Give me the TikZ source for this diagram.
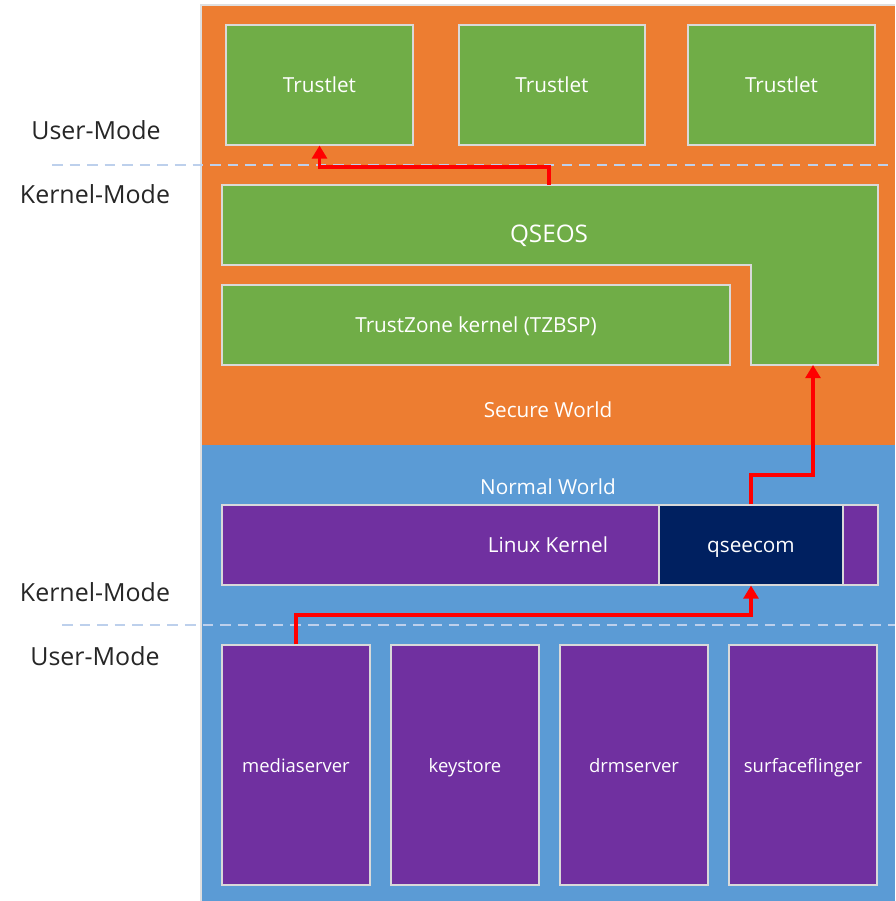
\documentclass[tikz,border=0pt]{standalone}
\usepackage{fontspec}
\setmainfont{Open Sans}
\usetikzlibrary{arrows.meta,fit}
\definecolor{secorange}{HTML}{ED7D31}
\definecolor{nwblue}{HTML}{5B9BD5}
\definecolor{tzgreen}{HTML}{70AD47}
\definecolor{nwpurple}{HTML}{7030A0}
\definecolor{qnavy}{HTML}{002060}
\definecolor{modeline}{HTML}{BDD0EC}
\begin{document}
\begin{tikzpicture}[
    x=0.02cm, y=-0.02cm,
    box/.style={draw=gray!30, line width=0.6pt, inner sep=0pt},
    boxtext/.style={text=white, font=\fontsize{11.8}{14}\selectfont,
                    text height=1.85ex, text depth=0.35ex},
    greenbox/.style={box, fill=tzgreen},
    purplebox/.style={box, fill=nwpurple},
    smalltext/.style={boxtext, font=\fontsize{10.5}{12}\selectfont},
    modelabel/.style={text=black!85, font=\fontsize{14.2}{16}\selectfont},
    modesplit/.style={draw=modeline, line width=0.8pt, dash pattern=on 6pt off 4pt},
    call/.style={draw=red, line width=2.2pt, -{Triangle[width=8.5pt,length=7.5pt]}}]
  \useasboundingbox[fill=white] (0,0) rectangle (895,901);
  % the two worlds
  \fill[secorange] (201,5) rectangle (895,445);
  \fill[nwblue] (201,445) rectangle (895,901);
  \draw[gray!25, line width=0.6pt] (895,5) -- (201,5) -- (201,901);
  \node[boxtext] (sw) at (548,410) {Secure World};
  \node[boxtext] (nw) at (548,487) {Normal World};
  % secure side
  \node[greenbox, fit={(226,25) (413,145)}, label={[boxtext]center:Trustlet}] (t1) {};
  \node[greenbox, fit={(459,25) (645,145)}, label={[boxtext]center:Trustlet}] (t2) {};
  \node[greenbox, fit={(688,25) (875,145)}, label={[boxtext]center:Trustlet}] (t3) {};
  \draw[greenbox] (222,185) -- (878,185) -- (878,365) -- (751,365)
    -- (751,265) -- (222,265) -- cycle;
  \node[text=white, font=\fontsize{13.8}{16}\selectfont] (qseos) at (549,236) {QSEOS};
  \coordinate (qseostop) at (549,185);
  \coordinate (qseoslow) at (813,365);
  \node[greenbox, fit={(222,285) (730,365)},
        label={[boxtext]center:TrustZone kernel (TZBSP)}] (tz) {};
  % normal side
  \node[purplebox, fit={(222,505) (878,585)}] (lk) {};
  \node[boxtext] (lktext) at (548,545) {Linux Kernel};
  \node[box, fill=qnavy, fit={(659,505) (843,585)}, label={[boxtext]center:qseecom}] (qsc) {};
  \node[purplebox, fit={(222,645) (370,885)}, label={[smalltext]center:mediaserver}] (ms) {};
  \node[purplebox, fit={(391,645) (539,885)}, label={[smalltext]center:keystore}] (ks) {};
  \node[purplebox, fit={(560,645) (708,885)}, label={[smalltext]center:drmserver}] (drm) {};
  \node[purplebox, fit={(729,645) (877,885)}, label={[smalltext]center:surfaceflinger}] (sf) {};
  % privilege levels
  \draw[modesplit] (52,165) -- (895,165);
  \draw[modesplit] (62,625) -- (895,625);
  \node[modelabel] (um1) at (96,130) {User-Mode};
  \node[modelabel] (km1) at (95,194) {Kernel-Mode};
  \node[modelabel] (km2) at (95,592) {Kernel-Mode};
  \node[modelabel] (um2) at (95,656) {User-Mode};
  % call path
  \draw[call] (ms.north) -- (296,615) -| (qsc.south);
  \draw[call] (qsc.north) -- (751,475) -| (qseoslow);
  \draw[call] (qseostop) -- (549,167) -| (t1.south);
\end{tikzpicture}
\end{document}
